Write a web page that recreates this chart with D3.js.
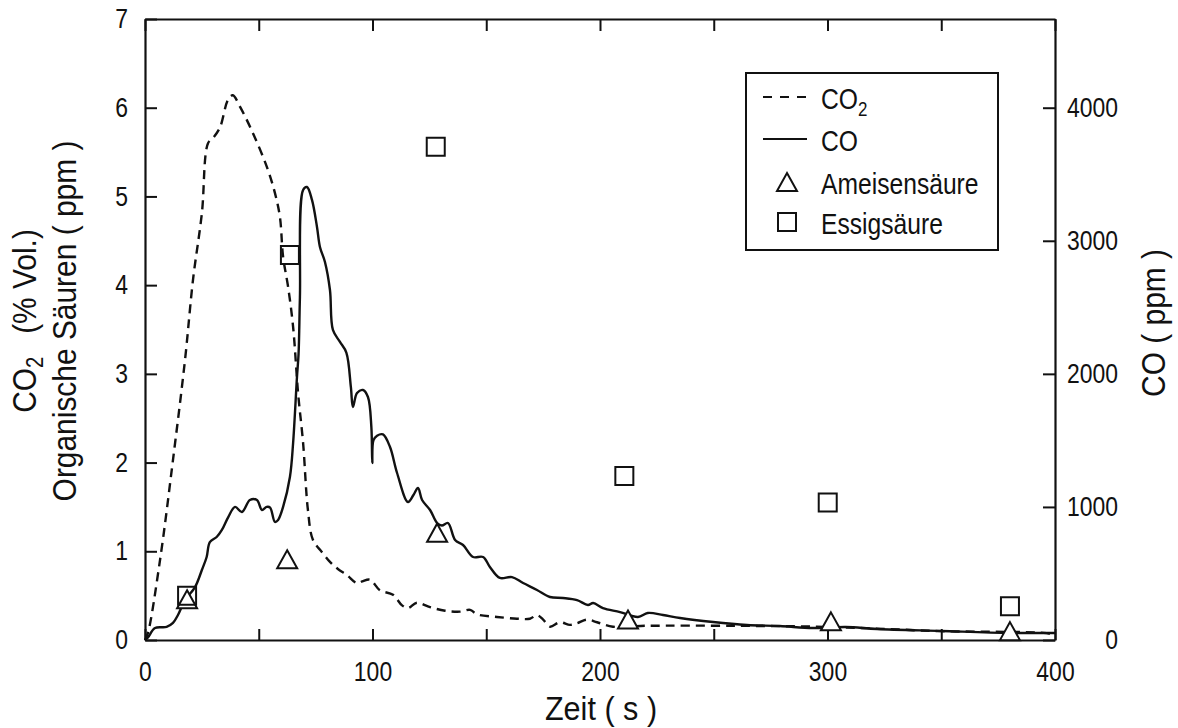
<!DOCTYPE html>
<html>
<head>
<meta charset="utf-8">
<script src="https://cdn.jsdelivr.net/npm/d3@7"></script>
<style>
  body { margin: 0; background: #fff; }
  text { font-family: "Liberation Sans", Arial, sans-serif; fill: #111; }
</style>
</head>
<body>
<svg id="chart" width="1178" height="728"></svg>
<script>
// CO2 in % Vol. (left axis), time in s
var co2Data = [[0,0],[1.3,0.08],[6.6,0.9],[12.3,2.03],[17.6,3.16],[21.1,4.06],[25,4.81],[27.7,5.6],[30,5.66],[33,5.78],
  [36.5,6.09],[38.6,6.14],[41.8,6.01],[47.5,5.71],[53.6,5.33],[57.1,5.04],[59.3,4.77],[60.7,4.32],[62.9,3.98],[65.1,3.53],
  [67.3,2.78],[69.5,2.22],[71.6,1.47],[73.8,1.13],[77.8,0.99],[81.3,0.88],[84.8,0.8],[88.8,0.73],[93.2,0.64],[95.5,0.66],
  [98.9,0.68],[103.3,0.56],[109,0.51],[113,0.39],[115.6,0.36],[119.5,0.42],[125.3,0.37],[131.9,0.33],[138.5,0.32],[142.9,0.34],
  [145.9,0.29],[154.7,0.26],[163.5,0.24],[169.2,0.24],[172.3,0.28],[175,0.23],[178,0.15],[182.4,0.2],[186.8,0.17],[190,0.19],
  [194.3,0.23],[198.7,0.2],[205.7,0.15],[220,0.16],[260,0.16],[295,0.15],[320,0.13],[350,0.1],[395,0.08],[400,0.06]];

// CO in ppm (right axis)
var coData = [[0,0],[1.3,20],[4.4,90],[9.5,98],[12.3,128],[14.5,188],[17.6,300],[22,398],[25,526],[27.1,624],
  [28.5,736],[31.5,774],[33.8,827],[36.6,924],[39.6,1000],[42.6,962],[46.1,1052],[49.2,1052],[51.4,977],[53.5,1000],
  [55,995],[57.1,887],[58.5,902],[60.7,1000],[63.7,1225],[65.1,1480],[66.8,1976],[67.5,2150],[68.1,2578],[69.5,3382],
  [71.2,3404],[73.4,3307],[75.6,3104],[76.9,2954],[79.1,2841],[81.3,2630],[82.6,2330],[85.7,2240],[88.5,2160],[90.5,1900],
  [91.4,1751],[93.2,1856],[95.8,1879],[98,1826],[99.5,1600],[99.9,1330],[100.4,1500],[102,1535],[104.6,1545],[107.7,1450],
  [110.8,1255],[115.6,1037],[118,1090],[120,1142],[121.8,1052],[125.3,977],[128.4,879],[130.5,860],[133.2,879],[136.3,752],
  [139.8,714],[144.2,624],[148.6,624],[151.6,549],[156,466],[161.3,473],[166.2,428],[172.3,376],[178,323],[183.7,316],
  [189.9,300],[194.7,263],[197,278],[201.3,240],[208.8,210],[216.7,173],[221,203],[227.7,188],[235.2,165],[249.7,135],
  [264.6,113],[279,105],[293.6,90],[308,98],[321.8,83],[350,68],[380,53],[400,53]];

// organic acids in ppm (left axis)
var ameisenData = [[18.5,0.46],[62.5,0.91],[128.4,1.21],[212.3,0.23],[301.5,0.21],[380.2,0.1]];
var essigData = [[18.5,0.5],[63.7,4.34],[127.8,5.56],[210.7,1.85],[300.1,1.55],[380.2,0.38]];

var xTicks = [0,50,100,150,200,250,300,350,400];
var xLabels = [0,100,200,300,400];
var yLeftTicks = [0,1,2,3,4,5,6,7];
var yRightTicks = [0,1000,2000,3000,4000];
var legendItems = ["CO2", "CO", "Ameisensäure", "Essigsäure"];

var svg = d3.select("#chart");
svg.append("rect").attr("width", 1178).attr("height", 728).attr("fill", "#fff");

// the original typeface is a narrow grotesque: squeeze text horizontally
function narrow(sel, k) {
  sel.each(function() {
    var t = d3.select(this);
    var xx = +t.attr("x") || 0, yy = +t.attr("y") || 0;
    var tr = t.attr("transform") || "";
    t.attr("x", 0).attr("y", 0)
      .attr("transform", tr + " translate(" + xx + "," + yy + ") scale(" + k + ",1)");
  });
}

var x = d3.scaleLinear().domain([0, 400]).range([145, 1055]);
var yL = d3.scaleLinear().domain([0, 7]).range([640, 19]);
var yR = d3.scaleLinear().domain([0, 4000 * 7 / 6]).range([640, 19]);

// axes, ticks pointing inwards
var axB = svg.append("g").attr("transform", "translate(0,640)")
  .call(d3.axisBottom(x).tickValues(xTicks).tickSizeInner(-11).tickSizeOuter(0).tickPadding(22)
    .tickFormat(function(d){ return xLabels.indexOf(d) >= 0 ? d : ""; }));
var axT = svg.append("g").attr("transform", "translate(0,19)")
  .call(d3.axisTop(x).tickValues(xTicks).tickSizeInner(-12).tickSizeOuter(0).tickFormat(""));
var axL = svg.append("g").attr("transform", "translate(145,0)")
  .call(d3.axisLeft(yL).tickValues(yLeftTicks).tickSizeInner(-12).tickSizeOuter(0).tickPadding(17).tickFormat(d3.format("d")));
var axR = svg.append("g").attr("transform", "translate(1055,0)")
  .call(d3.axisRight(yR).tickValues(yRightTicks).tickSizeInner(-12).tickSizeOuter(0).tickFormat(d3.format("d")));
axR.selectAll("text").attr("text-anchor", "end").attr("x", 63);

svg.selectAll(".domain").attr("stroke", "#111").attr("stroke-width", 2.2);
svg.selectAll(".tick line").attr("stroke", "#111").attr("stroke-width", 2);
svg.selectAll(".tick text").style("font-size", "27px").attr("fill", "#111");
narrow(svg.selectAll(".tick text"), 0.85);

// curves
var lineL = d3.line().curve(d3.curveCatmullRom.alpha(0.5))
  .x(function(d){ return x(d[0]); }).y(function(d){ return yL(d[1]); });
var lineR = d3.line().curve(d3.curveCatmullRom.alpha(0.5))
  .x(function(d){ return x(d[0]); }).y(function(d){ return yR(d[1]); });

svg.append("path").datum(coData).attr("d", lineR)
  .attr("fill", "none").attr("stroke", "#111").attr("stroke-width", 2.4).attr("stroke-linejoin", "round");
svg.append("path").datum(co2Data).attr("d", lineL)
  .attr("fill", "none").attr("stroke", "#111").attr("stroke-width", 2.4).attr("stroke-dasharray", "9,6");

// triangle centred on its bounding box
var triBox = {
  draw: function(ctx, size) {
    var w = Math.sqrt(size), h = w * 0.9;
    ctx.moveTo(0, -h / 2);
    ctx.lineTo(w / 2, h / 2);
    ctx.lineTo(-w / 2, h / 2);
    ctx.closePath();
  }
};
var tri = d3.symbol().type(triBox).size(400);
var sq = d3.symbol().type(d3.symbolSquare).size(324);

svg.selectAll(".ameise").data(ameisenData).join("path").attr("class", "ameise")
  .attr("d", tri).attr("transform", function(d){ return "translate(" + x(d[0]) + "," + yL(d[1]) + ")"; })
  .attr("fill", "#fff").attr("stroke", "#111").attr("stroke-width", 2);
svg.selectAll(".essig").data(essigData).join("path").attr("class", "essig")
  .attr("d", sq).attr("transform", function(d){ return "translate(" + x(d[0]) + "," + yL(d[1]) + ")"; })
  .attr("fill", "none").attr("stroke", "#111").attr("stroke-width", 2);

// legend
var lg = svg.append("g");
lg.append("rect").attr("x", 746).attr("y", 73).attr("width", 252).attr("height", 177)
  .attr("fill", "#fff").attr("stroke", "#111").attr("stroke-width", 2);
var rowY = [97, 139, 182, 222];
lg.append("line").attr("x1", 763).attr("x2", 807).attr("y1", rowY[0]).attr("y2", rowY[0])
  .attr("stroke", "#111").attr("stroke-width", 2.2).attr("stroke-dasharray", "9,8");
lg.append("line").attr("x1", 763).attr("x2", 807).attr("y1", rowY[1]).attr("y2", rowY[1])
  .attr("stroke", "#111").attr("stroke-width", 2.2);
lg.append("path").attr("d", tri).attr("transform", "translate(787," + rowY[2] + ")")
  .attr("fill", "none").attr("stroke", "#111").attr("stroke-width", 2);
lg.append("path").attr("d", sq).attr("transform", "translate(787," + rowY[3] + ")")
  .attr("fill", "none").attr("stroke", "#111").attr("stroke-width", 2);
legendItems.forEach(function(name, i) {
  var t = lg.append("text").attr("x", 821).attr("y", rowY[i] + 12).style("font-size", "29px");
  if (name === "CO2") {
    t.append("tspan").text("CO");
    t.append("tspan").attr("dy", 7).style("font-size", "20px").text("2");
  } else {
    t.text(name);
  }
  narrow(t, 0.85);
});

// axis titles
var tz = svg.append("text").attr("x", 601).attr("y", 720).attr("text-anchor", "middle")
  .style("font-size", "34px").text("Zeit ( s )");
narrow(tz, 0.9);

var t1 = svg.append("text").attr("transform", "translate(36,321) rotate(-90)")
  .attr("text-anchor", "middle").style("font-size", "34px");
t1.append("tspan").text("CO");
t1.append("tspan").attr("dy", 7).style("font-size", "23px").text("2");
t1.append("tspan").attr("dy", -7).attr("dx", 26).text("(% Vol.)");
narrow(t1, 0.88);

var t2 = svg.append("text").attr("transform", "translate(76,321) rotate(-90)")
  .attr("text-anchor", "middle").style("font-size", "34px").text("Organische Säuren ( ppm )");
narrow(t2, 0.88);

var t3 = svg.append("text").attr("transform", "translate(1165,323) rotate(-90)")
  .attr("text-anchor", "middle").style("font-size", "34px").text("CO ( ppm )");
narrow(t3, 0.88);
</script>
</body>
</html>
